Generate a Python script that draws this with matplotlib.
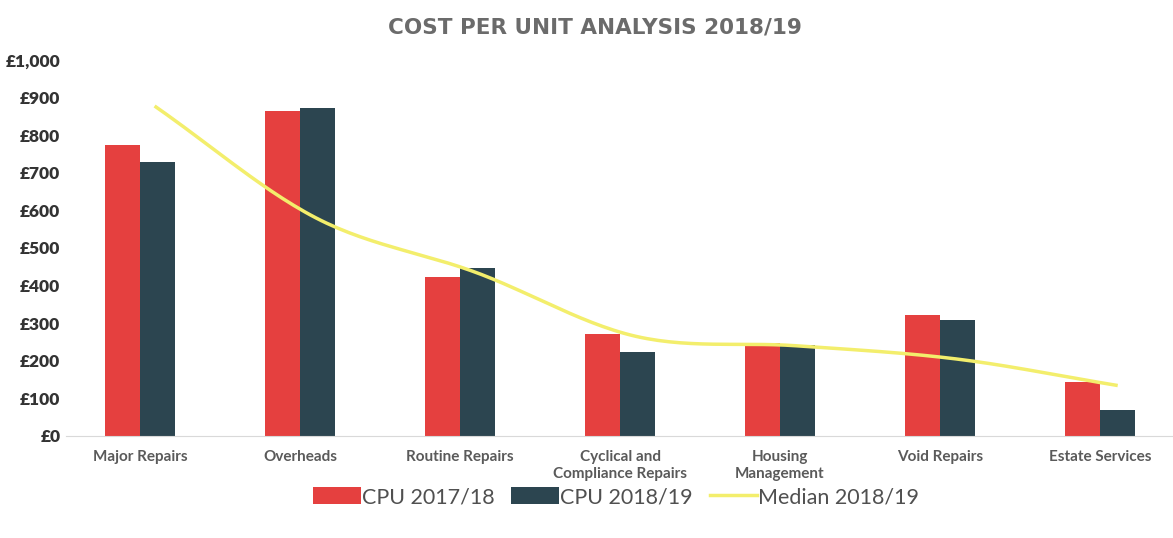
import numpy as np
import matplotlib
matplotlib.use("Agg")
from matplotlib import pyplot as plt

plt.rcParams['font.family'] = ['Lato', 'DejaVu Sans']

categories = ['Major Repairs', 'Overheads', 'Routine Repairs',
              'Cyclical and\nCompliance Repairs', 'Housing\nManagement',
              'Void Repairs', 'Estate Services']
cpu_1718 = [774, 864, 423, 271, 247, 322, 144]
cpu_1819 = [729, 872, 447, 223, 242, 308, 69]
median_1819 = [875, 580, 435, 265, 240, 205, 135]
yticks = [0, 100, 200, 300, 400, 500, 600, 700, 800, 900, 1000]
ytick_labels = ['£0', '£100', '£200', '£300', '£400', '£500', '£600',
                '£700', '£800', '£900', '£1,000']

red = '#E5403F'
dark = '#2C4550'
yellow = '#F3EE6C'


def smooth(xs, ys, n=30):
    # catmull-rom style smoothing like Excel's smoothed line
    xs = np.asarray(xs, float)
    ys = np.asarray(ys, float)
    px = np.concatenate([[2 * xs[0] - xs[1]], xs, [2 * xs[-1] - xs[-2]]])
    py = np.concatenate([[2 * ys[0] - ys[1]], ys, [2 * ys[-1] - ys[-2]]])
    ox, oy = [], []
    for i in range(1, len(px) - 2):
        t = np.linspace(0, 1, n)
        for p, out in ((px, ox), (py, oy)):
            p0, p1, p2, p3 = p[i - 1], p[i], p[i + 1], p[i + 2]
            out.extend(0.5 * (2 * p1 + (-p0 + p2) * t
                              + (2 * p0 - 5 * p1 + 4 * p2 - p3) * t ** 2
                              + (-p0 + 3 * p1 - 3 * p2 + p3) * t ** 3))
    return ox, oy


fig = plt.figure(figsize=(11.73, 5.38), dpi=100)
ax = fig.add_axes([66 / 1173, 1 - 436 / 538, 1107 / 1173, 376 / 538])

x = np.arange(len(categories))
w = 0.22
b1 = ax.bar(x - w / 2, cpu_1718, w, color=red, label='CPU 2017/18')
b2 = ax.bar(x + w / 2, cpu_1819, w, color=dark, label='CPU 2018/19')
sx, sy = smooth(x + 0.1, median_1819)
ln, = ax.plot(sx, sy, color=yellow, lw=2.5, label='Median 2018/19')

ax.set_ylim(0, 1000)
ax.set_xlim(-0.5 + 6 / 160, -0.5 + 1113 / 160)
ax.set_yticks(yticks)
ax.set_yticklabels(ytick_labels, fontsize=12.5, fontweight='heavy', color='#333333')
ax.set_xticks(x)
ax.set_xticklabels(categories, fontsize=11, fontweight='bold', color='#5a5a5a',
                   linespacing=1.3)
ax.tick_params(axis='x', length=0, pad=10)
ax.tick_params(axis='y', length=0, pad=4)
for s in ['top', 'right', 'left']:
    ax.spines[s].set_visible(False)
ax.spines['bottom'].set_color('#d9d9d9')

fig.text(0.507, 0.948, 'COST PER UNIT ANALYSIS 2018/19', ha='center', va='center',
         fontsize=15.5, fontweight='bold', color='#6b6b6b', family='DejaVu Sans')

ax.legend([b1, b2, ln], ['CPU 2017/18', 'CPU 2018/19', 'Median 2018/19'],
          loc='center', bbox_to_anchor=(0.497, -0.163), ncol=3, frameon=False,
          fontsize=15.5, handlelength=2.2, handleheight=0.85, columnspacing=0.8,
          handletextpad=0.05, labelcolor='#505050', borderpad=0)

fig.savefig('out.png', dpi=100)
